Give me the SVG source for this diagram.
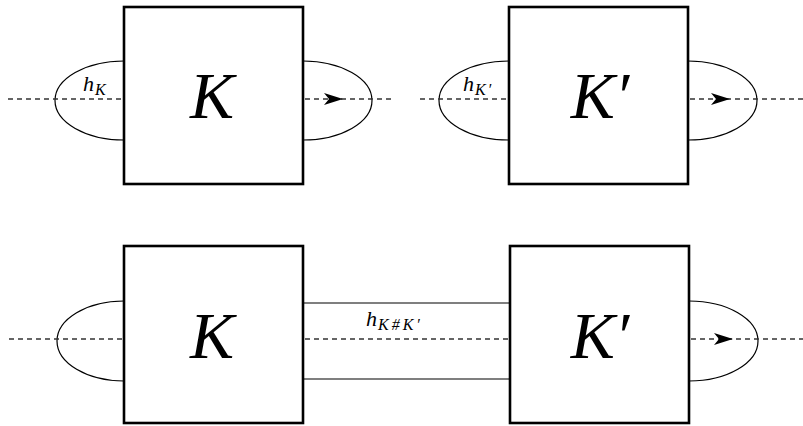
<svg xmlns="http://www.w3.org/2000/svg" width="803" height="426" viewBox="0 0 803 426">
<style>
.box{fill:#fff;stroke:#000;stroke-width:2.6}
.arc{fill:none;stroke:#000;stroke-width:1.2}
.dash{fill:none;stroke:#333;stroke-width:1.3;stroke-dasharray:5 4}
.big{font-family:"Liberation Serif",serif;font-style:italic;font-size:66px;text-anchor:middle}
.lbl{font-family:"Liberation Serif",serif;font-style:italic;font-size:22px}
.sub{font-size:16px}
</style>
<defs>
<path id="ah" d="M0,0 L-19,-6 L-14,0 L-19,6 Z" fill="#000"/>
</defs>
<g id="connectors">
<path class="arc" d="M124,61 A69,39.5 0 0 0 124,140"/>
<path class="arc" d="M303,61 A69,39.5 0 0 1 303,140"/>
<line class="dash" x1="8" y1="99" x2="122" y2="99"/>
<line class="dash" x1="305" y1="99" x2="394" y2="99"/>
<use href="#ah" x="343" y="99"/>
<path class="arc" d="M509,61 A70,39.5 0 0 0 509,140"/>
<path class="arc" d="M688,61 A69,39.5 0 0 1 688,140"/>
<line class="dash" x1="420" y1="99" x2="507" y2="99"/>
<line class="dash" x1="690" y1="99" x2="803" y2="99"/>
<use href="#ah" x="730" y="99"/>
<path class="arc" d="M124,301 A67,40 0 0 0 124,381"/>
<line class="arc" x1="303" y1="303" x2="510" y2="303"/>
<line class="arc" x1="303" y1="379" x2="510" y2="379"/>
<line class="dash" x1="9" y1="339" x2="122" y2="339"/>
<line class="dash" x1="305" y1="339" x2="508" y2="339"/>
<path class="arc" d="M689,301 A69,40 0 0 1 689,381"/>
<line class="dash" x1="691" y1="339" x2="803" y2="339"/>
<use href="#ah" x="733" y="339"/>
</g>
<g id="labels">
<text class="lbl" x="83" y="91">h<tspan class="sub" dy="4" dx="1">K</tspan></text>
<text class="lbl" x="463" y="91">h<tspan class="sub" dy="4" dx="1" letter-spacing="2">K′</tspan></text>
<text class="lbl" x="366" y="326">h<tspan class="sub" dy="4" dx="1" letter-spacing="3" font-size="17">K#K′</tspan></text>
</g>
<g id="K1"><rect class="box" x="124" y="7" width="179" height="177"/><text class="big" x="212" y="118">K</text></g>
<g id="K2"><rect class="box" x="509" y="7" width="179" height="177"/><text class="big" x="600" y="118">K′</text></g>
<g id="K3"><rect class="box" x="124" y="246" width="179" height="177"/><text class="big" x="212" y="358">K</text></g>
<g id="K4"><rect class="box" x="510" y="246" width="179" height="177"/><text class="big" x="600" y="358">K′</text></g>
</svg>
